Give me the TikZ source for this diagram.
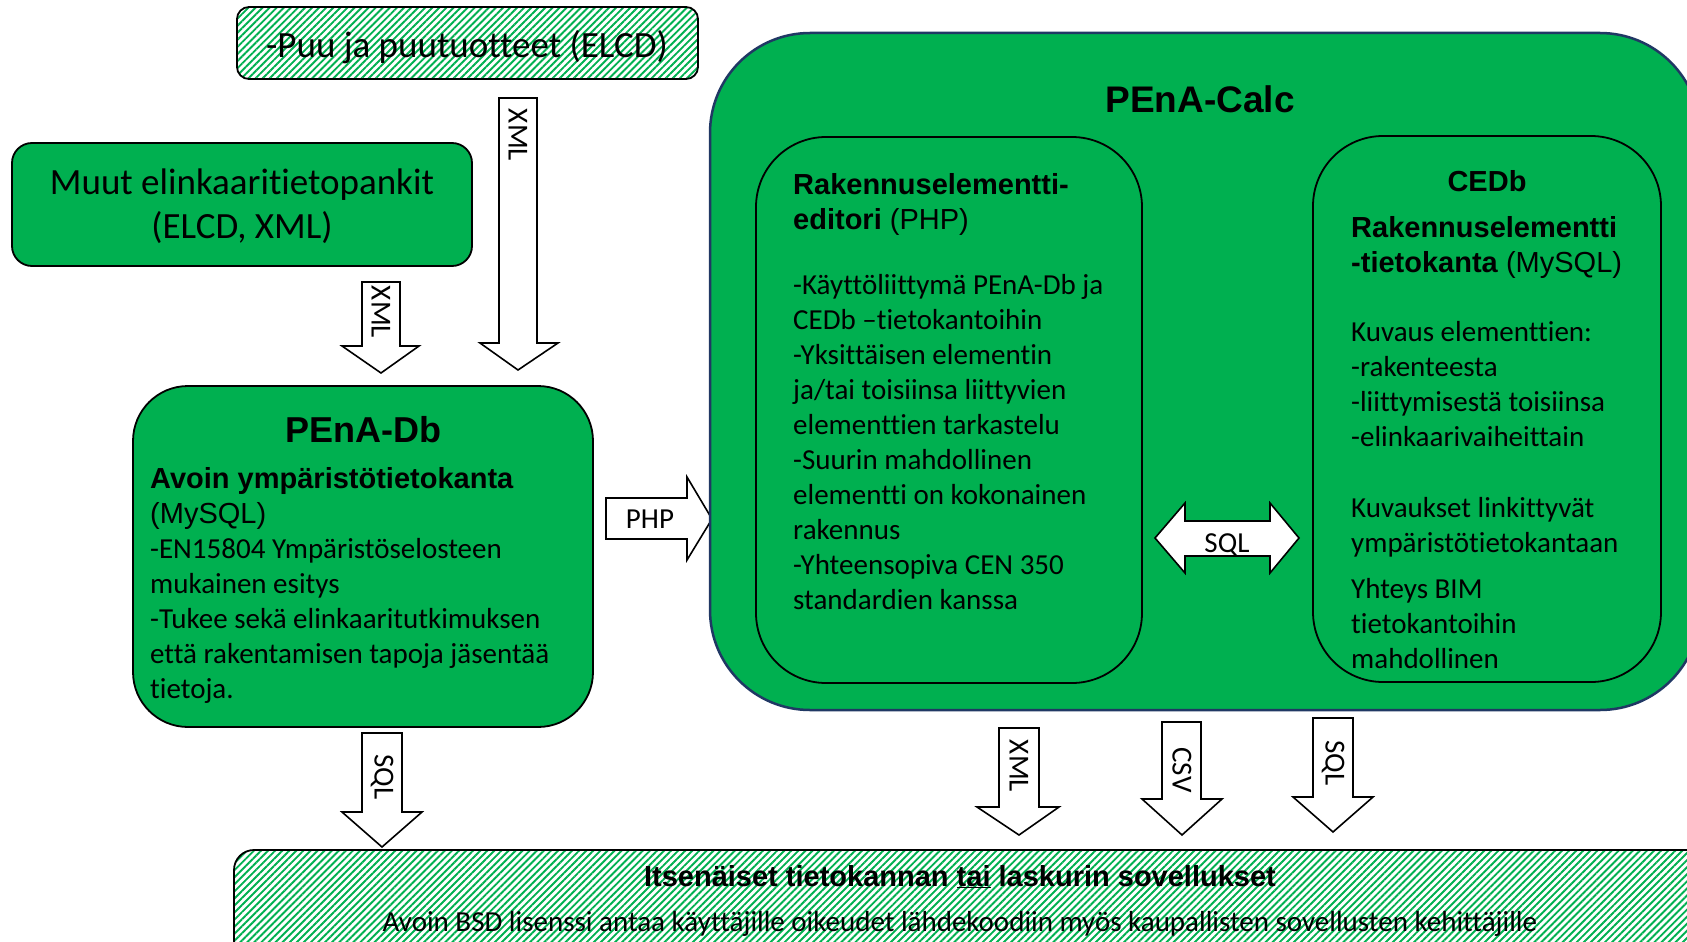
\documentclass[tikz,border=0pt]{standalone}
\usepackage{fontspec}
\setmainfont{Carlito}[Ligatures={NoCommon,NoContextual}]
\newfontfamily\arialf{Liberation Sans}
\usetikzlibrary{patterns.meta}
\definecolor{pgreen}{HTML}{00B050}
\definecolor{navyb}{HTML}{203864}
\newcommand{\txtlines}[1]{\begin{tabular}[t]{@{}l@{}}#1\end{tabular}}
\newcommand{\txtcenter}[1]{\begin{tabular}[t]{@{}c@{}}#1\end{tabular}}
\begin{document}
\begin{tikzpicture}[x=1pt,y=-1pt,
  box/.style={draw=black, line width=1.8pt, fill=pgreen, inner sep=0pt, outer sep=0pt, anchor=north west},
  hatch/.style={draw=black, line width=1.8pt, pattern={Lines[angle=45,distance=5pt,line width=1.9pt]}, pattern color=pgreen, inner sep=0pt, outer sep=0pt, anchor=north west},
  barrow/.style={draw=black, line width=1.6pt, fill=white, line join=miter},
  alabel/.style={rotate=-90, inner sep=0pt, font=\fontsize{29}{35}\selectfont},
  body/.style={anchor=base west, inner sep=0pt, font=\fontsize{29}{35}\selectfont},
  ctext/.style={anchor=base, inner sep=0pt, font=\fontsize{29}{35}\selectfont},
  bigtext/.style={anchor=base, inner sep=0pt, font=\fontsize{37}{44}\selectfont},
  titletext/.style={anchor=base, inner sep=0pt, font=\arialf\bfseries\fontsize{36}{43}\selectfont},
]
\useasboundingbox (0,0) rectangle (1687,942);
\clip (0,0) rectangle (1687,942);
\fill[white] (0,0) rectangle (1687,942);

% ---- top source boxes
\node[hatch, rounded corners=12pt, minimum width=461pt, minimum height=72pt] (puu) at (237,7) {};
\node[bigtext] (puutext) at (467,58) {-Puu ja puutuotteet (ELCD)};

\node[box, rounded corners=20pt, minimum width=460pt, minimum height=123pt] (muut) at (12,143) {};
\node[bigtext] (muuttext) at (242,194) {\txtcenter{Muut elinkaaritietopankit\\(ELCD, XML)}};

% ---- XML arrows into PEnA-Db
\draw[barrow] (499,98) -- (537,98) -- (537,343) -- (558,343) -- (518,370) -- (480,343) -- (499,343) -- cycle;
\node[alabel] (xmlA) at (518,135) {XML};
\draw[barrow] (362,282) -- (400,282) -- (400,346) -- (419,346) -- (381,373) -- (342,346) -- (362,346) -- cycle;
\node[alabel] (xmlB) at (381,312) {XML};

% ---- PEnA-Db
\node[box, rounded corners=55pt, minimum width=460pt, minimum height=341pt] (db) at (133,386) {};
\node[titletext] (dbtitle) at (363,442) {PEnA-Db};
\node[body] (dbbody) at (150,488) {\txtlines{\arialf\bfseries Avoin ympäristötietokanta\\
\arialf (MySQL)\\
-EN15804 Ympäristöselosteen\\
mukainen esitys\\
-Tukee sekä elinkaaritutkimuksen\\
että rakentamisen tapoja jäsentää\\
tietoja.}};

% ---- PHP arrow
\draw[barrow] (606,498) -- (687,498) -- (687,477) -- (712,519) -- (687,560) -- (687,539) -- (606,539) -- cycle;
\node[ctext] (php) at (650,528) {PHP};

% ---- PEnA-Calc
\node[draw=navyb, line width=2.5pt, fill=pgreen, inner sep=0pt, outer sep=0pt, anchor=north west, rounded corners=100pt, minimum width=990pt, minimum height=677pt] (calc) at (710,33) {};
\node[titletext, font=\arialf\bfseries\fontsize{37}{44}\selectfont] (calctitle) at (1200,112) {PEnA-Calc};

% editor
\node[box, rounded corners=70pt, minimum width=386pt, minimum height=546pt] (editor) at (756,137) {};
\node[body] (edhead) at (793,194) {\txtlines{\arialf\bfseries Rakennuselementti-\\
\arialf\textbf{editori} (PHP)}};
\node[body] (edbody) at (793,294) {\txtlines{-Käyttöliittymä PEnA-Db ja\\
CEDb –tietokantoihin\\
-Yksittäisen elementin\\
ja/tai toisiinsa liittyvien\\
elementtien tarkastelu\\
-Suurin mahdollinen\\
elementti on kokonainen\\
rakennus\\
-Yhteensopiva CEN 350\\
standardien kanssa}};

% SQL double arrow
\draw[barrow] (1155,538) -- (1185,503) -- (1185,521) -- (1270,521) -- (1270,503) -- (1299,538) -- (1270,573) -- (1270,556) -- (1185,556) -- (1185,573) -- cycle;
\node[ctext] (sqlmid) at (1227,552) {SQL};

% CEDb
\node[box, rounded corners=70pt, minimum width=348pt, minimum height=546pt] (cedb) at (1313,136) {};
\node[anchor=base, inner sep=0pt, font=\arialf\bfseries\fontsize{29}{35}\selectfont] (cedbtitle) at (1487,191) {CEDb};
\node[body] (cedbhead) at (1351,237) {\txtlines{\arialf\bfseries Rakennuselementti\\
\arialf\textbf{-tietokanta} (MySQL)}};
\node[body] (cedbA) at (1351,341) {\txtlines{Kuvaus elementtien:\\
-rakenteesta\\
-liittymisestä toisiinsa\\
-elinkaarivaiheittain}};
\node[body] (cedbB) at (1351,517) {\txtlines{Kuvaukset linkittyvät\\
ympäristötietokantaan}};
\node[body] (cedbC) at (1351,598) {\txtlines{Yhteys BIM\\
tietokantoihin\\
mahdollinen}};

% ---- bottom box
\node[hatch, rounded corners=20pt, minimum width=1480pt, minimum height=140pt] (apps) at (234,850) {};
\node[anchor=base, inner sep=0pt, font=\arialf\bfseries\fontsize{29}{35}\selectfont] (appstitle) at (960,886) {Itsenäiset tietokannan \underline{tai} laskurin sovellukset};
\node[ctext] (appsbody) at (960,931) {Avoin BSD lisenssi antaa käyttäjille oikeudet lähdekoodiin myös kaupallisten sovellusten kehittäjille};

% ---- bottom arrows
\draw[barrow] (362,733) -- (402,733) -- (402,812) -- (422,812) -- (382,847) -- (342,812) -- (362,812) -- cycle;
\node[alabel] (sqlA) at (382,777) {SQL};
\draw[barrow] (999,728) -- (1039,728) -- (1039,807) -- (1059,807) -- (1019,835) -- (977,807) -- (999,807) -- cycle;
\node[alabel] (xmlC) at (1019,766) {XML};
\draw[barrow] (1162,722) -- (1201,722) -- (1201,799) -- (1222,799) -- (1182,835) -- (1142,799) -- (1162,799) -- cycle;
\node[alabel] (csv) at (1182,770) {CSV};
\draw[barrow] (1313,718) -- (1353,718) -- (1353,797) -- (1373,797) -- (1333,832) -- (1293,797) -- (1313,797) -- cycle;
\node[alabel] (sqlB) at (1333,763) {SQL};
\end{tikzpicture}
\end{document}
